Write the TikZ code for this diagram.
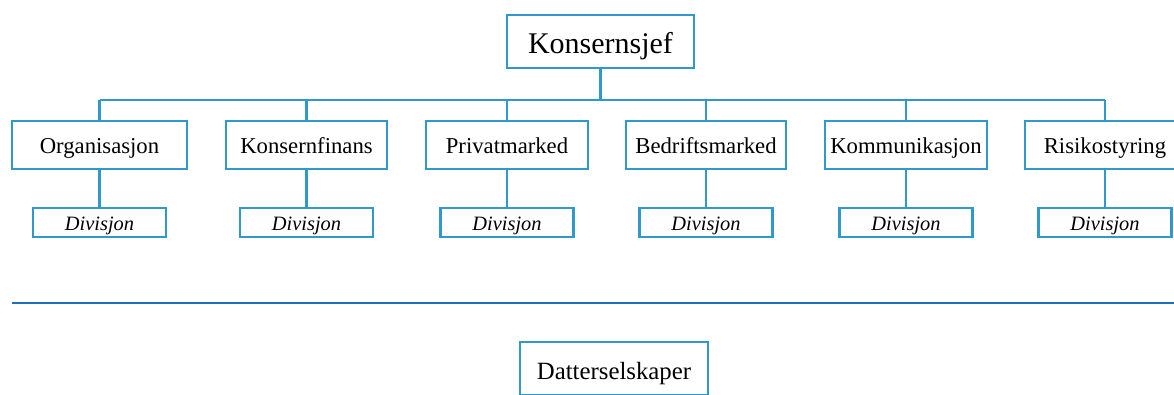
\documentclass[tikz,border=0pt]{standalone}
\usepackage{fontspec}
\setmainfont{Liberation Serif}
\definecolor{boxblue}{RGB}{48,152,202}
\definecolor{sepblue}{RGB}{30,112,188}
\tikzset{
  x=1pt,y=-1pt,
  box/.style={draw=boxblue,line width=2.4pt,fill=white,inner sep=0pt,align=center,text depth=0pt},
  topbox/.style={box,minimum width=187pt,minimum height=53pt,font=\fontsize{30}{36}\selectfont,text height=23pt},
  deptbox/.style={box,minimum height=48pt,font=\fontsize{22.7}{27}\selectfont,text height=16pt},
  divbox/.style={box,minimum width=133pt,minimum height=29pt,font=\fontsize{20.4}{24}\selectfont\itshape,text height=16.5pt},
  subbox/.style={box,minimum width=188pt,minimum height=53pt,font=\fontsize{24.8}{30}\selectfont,text height=21.5pt},
  conn/.style={draw=boxblue,line width=2.4pt},
  sep/.style={draw=sepblue,line width=2.8pt}
}
\begin{document}
\begin{tikzpicture}
\clip (0,0) rectangle (1174,394);
\fill[white] (0,0) rectangle (1174,394);
\coordinate (busy) at (0,100);
\node[topbox] (top) at (600.5,41.5) {Konsernsjef};
\node[deptbox,minimum width=175pt] (d1) at (99.5,145) {Organisasjon};
\node[deptbox,minimum width=161pt] (d2) at (306.5,145) {Konsernfinans};
\node[deptbox,minimum width=162pt] (d3) at (507,145) {Privatmarked};
\node[deptbox,minimum width=160pt] (d4) at (706,145) {Bedriftsmarked};
\node[deptbox,minimum width=162pt] (d5) at (906,145) {Kommunikasjon};
\node[deptbox,minimum width=160pt] (d6) at (1105,145) {Risikostyring};
\foreach \i in {1,...,6}{
  \node[divbox] (v\i) at (d\i |- 0,222.5) {Divisjon};
  \draw[conn] (d\i.south) -- (v\i.north);
  \draw[conn] (d\i.north) -- (d\i.north |- busy);
}
\draw[conn] (top.south) -- (top.south |- busy);
\draw[conn] (d1.north |- busy) -- (d6.north |- busy);
\coordinate (sepL) at (12,303);
\coordinate (sepR) at (1180,303);
\draw[sep] (sepL) -- (sepR);
\node[subbox] (sub) at (614,368.5) {Datterselskaper};
\end{tikzpicture}
\end{document}
